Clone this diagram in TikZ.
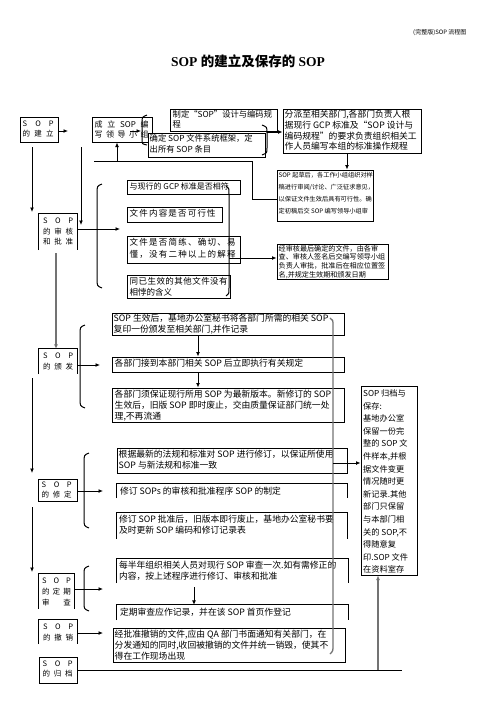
\documentclass[tikz,border=0pt]{standalone}
\usepackage{fontspec}
\setmainfont{Liberation Serif}
\newfontfamily\cjk{Noto Sans CJK SC}
\usetikzlibrary{arrows.meta,fit}
\newcommand\fs[2]{\fontsize{#1}{#2}\selectfont\cjk}
\newcommand\spr[2]{\hbox to #1pt{#2}}
\tikzset{
 bx/.style={draw, line width=1pt, fill=white, inner sep=0pt},
 ob/.style={inner sep=0pt},
 ln/.style={line width=1pt},
 gl/.style={line width=1.3pt, draw=black!55},
 arr/.style={ln, -{Latex[length=4.5pt,width=4pt]}},
 garr/.style={gl, -{Latex[length=4.5pt,width=4pt]}},
 tx/.style={inner sep=0pt, anchor=north west, align=left},
}
\begin{document}
\begin{tikzpicture}[x=1pt,y=-1pt]
\useasboundingbox (0,0) rectangle (496,702);
% header and title
\node[anchor=east, font=\fs{6}{7}] (hdr) at (470,33) {(完整版)SOP 流程图};
\node[font=\fontsize{13.5}{16}\selectfont\bfseries] (ttl) at (248,61) {SOP {\cjk 的建立及保存的} SOP};

% ---- left column boxes
\node[bx, fit={(20,117) (58,142)}] (b1) {};
\node[tx, font=\fs{7.5}{10}] (b1t) at ([shift={(3pt,-4pt)}]b1.north west) {\spr{31}{S\hfil O\hfil P}\\\spr{31}{的\hfil 建\hfil 立}};
\node[bx, fit={(92,117) (152,142)}] (b2) {};
\node[tx, font=\fs{8}{10}] (b2t) at ([shift={(3pt,-4pt)}]b2.north west) {\spr{54}{成\hfil 立\hfil SOP\hfil 编}\\\spr{54}{写\hfil 领\hfil 导\hfil 小\hfil 组}};

\node[ob, fit={(39,214) (77,250)}] (b3) {};
\draw[ln] (b3.south west) -- (b3.north west) -- (b3.north east) -- (b3.south east);
\node[tx, font=\fs{7.5}{10.5}] (b3t) at ([shift={(4pt,-4pt)}]b3.north west) {\spr{30}{S\hfil O\hfil P}\\\spr{30}{的\hfil 审\hfil 核}\\\spr{30}{和\hfil 批\hfil 准}};

\node[ob, fit={(39,349) (77,374)}] (b4) {};
\draw[ln] (b4.south west) -- (b4.north west) -- (b4.north east) -- (b4.south east);
\node[tx, font=\fs{7.5}{10.5}] (b4t) at ([shift={(4pt,-4pt)}]b4.north west) {\spr{30}{S\hfil O\hfil P}\\\spr{30}{的\hfil 颁\hfil 发}};

\node[bx, fit={(38,479) (77,501)}] (b5) {};
\node[tx, font=\fs{7.5}{10.5}] (b5t) at ([shift={(4pt,-3pt)}]b5.north west) {\spr{30}{S\hfil O\hfil P}\\\spr{30}{的\hfil 修\hfil 定}};

\node[ob, fit={(39,574) (74,609)}] (b6) {};
\draw[ln] (b6.south west) -- (b6.north west) -- (b6.north east) -- (b6.south east);
\node[tx, font=\fs{7.5}{11}] (b6t) at ([shift={(3pt,-4pt)}]b6.north west) {\spr{29}{S\hfil O\hfil P}\\\spr{29}{的\hfil 定\hfil 期}\\\spr{29}{审\hfil 查}};

\node[ob, fit={(39,620) (77,644)}] (b7) {};
\draw[ln] (b7.south west) -- (b7.north west) -- (b7.north east) -- (b7.south east);
\node[tx, font=\fs{7.5}{10.5}] (b7t) at ([shift={(4pt,-4pt)}]b7.north west) {\spr{30}{S\hfil O\hfil P}\\\spr{30}{的\hfil 撤\hfil 销}};

\node[bx, fit={(39,657) (77,683)}] (b8) {};
\node[tx, font=\fs{7.5}{10.5}] (b8t) at ([shift={(4pt,-4pt)}]b8.north west) {\spr{30}{S\hfil O\hfil P}\\\spr{30}{的\hfil 归\hfil 档}};

% ---- top right boxes
\node[bx, fit={(170,109) (277,131)}] (a1) {};
\node[tx, font=\fs{8.3}{10}] (a1t) at ([shift={(3pt,-2pt)}]a1.north west) {制定“SOP”设计与编码规\\程};
\node[bx, fit={(148,133) (265,157)}] (a2) {};
\node[tx, font=\fs{8.3}{10.5}] (a2t) at ([shift={(2pt,-2pt)}]a2.north west) {确定 SOP 文件系统框架，定\\出所有 SOP 条目};
\node[bx, fit={(283,109) (421,153)}] (pa) {};
\node[tx, font=\fs{8.8}{10.7}] (pat) at ([shift={(2pt,-1.5pt)}]pa.north west) {分派至相关部门,各部门负责人根\\据现行 GCP 标准及“SOP 设计与\\编码规程”的要求负责组织相关工\\作人员编写本组的标准操作规程};
\node[bx, fit={(277,170) (373,221)}] (qc) {};
\node[tx, font=\fs{6.2}{12}] (qct) at ([shift={(2pt,-2.5pt)}]qc.north west) {SOP 起草后，各工作小组组织对样\\稿进行审阅/讨论、广泛征求意见，\\以保证文件生效后具有可行性。确\\定初稿后交 SOP 编写领导小组审};
\node[bx, fit={(277,244) (388,279)}] (jc) {};
\node[tx, font=\fs{7.1}{8.6}] (jct) at ([shift={(2pt,-1.5pt)}]jc.north west) {经审核最后确定的文件，由各审\\查、审核人签名后交编写领导小组\\负责人审批，批准后在相应位置签\\名,并规定生效期和颁发日期};

% review items
\node[bx, fit={(127,180) (240,194)}] (r1) {};
\node[tx, font=\fs{8}{10}] (r1t) at ([shift={(3pt,-3pt)}]r1.north west) {与现行的 GCP 标准是否相符};
\node[bx, fit={(127,207) (222,222)}] (r2) {};
\node[tx, font=\fs{8.5}{10}] (r2t) at ([shift={(3pt,-3pt)}]r2.north west) {\spr{86}{文\hfil 件\hfil 内\hfil 容\hfil 是\hfil 否\hfil 可\hfil 行\hfil 性}};
\node[bx, fit={(127,236) (240,263)}] (r3) {};
\node[tx, font=\fs{8.5}{12}] (r3t) at ([shift={(3pt,-3pt)}]r3.north west) {\spr{106}{文\hfil 件\hfil 是\hfil 否\hfil 简\hfil 练\hfil 、\hfil 确\hfil 切\hfil 、\hfil 易}\\\spr{106}{懂\hfil ，\hfil 没\hfil 有\hfil 二\hfil 种\hfil 以\hfil 上\hfil 的\hfil 解\hfil 释}};
\node[bx, fit={(127,275) (230,298)}] (r4) {};
\node[tx, font=\fs{8.5}{11}] (r4t) at ([shift={(3pt,-3pt)}]r4.north west) {\spr{98}{同\hfil 已\hfil 生\hfil 效\hfil 的\hfil 其\hfil 他\hfil 文\hfil 件\hfil 没\hfil 有}\\相悖的含义};

% ---- distribution
\node[bx, fit={(112,313) (344,335)}] (m1) {};
\node[tx, font=\fs{8.8}{10.5}] (m1t) at ([shift={(2pt,-1.5pt)}]m1.north west) {SOP 生效后，基地办公室秘书将各部门所需的相关 SOP\\复印一份颁发至相关部门,并作记录};
\node[bx, fit={(112,357) (344,372)}] (m2) {};
\node[tx, font=\fs{8.8}{10.5}] (m2t) at ([shift={(3pt,-2.5pt)}]m2.north west) {各部门接到本部门相关 SOP 后立即执行有关规定};
\node[bx, fit={(112,388) (344,422)}] (m3) {};
\node[tx, font=\fs{8.8}{11}] (m3t) at ([shift={(3pt,-2pt)}]m3.north west) {各部门须保证现行所用 SOP 为最新版本。新修订的 SOP\\生效后，旧版 SOP 即时废止，交由质量保证部门统一处\\理,不再流通};

% ---- revision
\node[bx, fit={(117,448) (347,473)}] (v1) {};
\node[tx, font=\fs{8.8}{11}] (v1t) at ([shift={(2pt,-2pt)}]v1.north west) {根据最新的法规和标准对 SOP 进行修订，以保证所使用\\SOP 与新法规和标准一致};
\node[ob, fit={(117,484) (347,498)}] (v2) {};
\draw[ln] (v2.south west) -- (v2.north west) -- (v2.north east) -- (v2.south east);
\node[tx, font=\fs{8.8}{11}] (v2t) at ([shift={(3pt,-3pt)}]v2.north west) {修订 SOPs 的审核和批准程序 SOP 的制定};
\node[ob, fit={(117,513) (347,539)}] (v3) {};
\draw[ln] (v3.south west) -- (v3.north west) -- (v3.north east) -- (v3.south east);
\node[tx, font=\fs{8.8}{11}] (v3t) at ([shift={(2pt,-2pt)}]v3.north west) {修订 SOP 批准后，旧版本即行废止，基地办公室秘书要\\及时更新 SOP 编码和修订记录表};

% ---- periodic review
\node[ob, fit={(117,559) (348,583)}] (p1) {};
\draw[ln] (p1.south west) -- (p1.north west) -- (p1.north east) -- (p1.south east);
\node[tx, font=\fs{8.8}{11}] (p1t) at ([shift={(2pt,-2pt)}]p1.north west) {每半年组织相关人员对现行 SOP 审查一次.如有需修正的\\内容，按上述程序进行修订、审核和批准};
\node[ob, fit={(117,605) (348,620)}] (p2) {};
\draw[ln] (p2.south west) -- (p2.north west) -- (p2.north east) -- (p2.south east);
\node[tx, font=\fs{8.8}{11}] (p2t) at ([shift={(3pt,-3pt)}]p2.north west) {定期审查应作记录，并在该 SOP 首页作登记};

% ---- withdrawal
\node[bx, fit={(113,628) (345,662)}] (c1) {};
\node[tx, font=\fs{8.8}{11}] (c1t) at ([shift={(2pt,-2pt)}]c1.north west) {经批准撤销的文件,应由 QA 部门书面通知有关部门，在\\分发通知的同时,收回被撤销的文件并统一销毁，使其不\\得在工作现场出现};

% ---- archive
\node[bx, fit={(361,386) (417,575)}] (ar) {};
\node[tx, font=\fs{8.2}{12.6}] (art) at ([shift={(2.5pt,-4pt)}]ar.north west) {SOP 归档与\\保存:\\基地办公室\\保留一份完\\整的 SOP 文\\件样本,并根\\据文件变更\\情况随时更\\新记录.其他\\部门只保留\\与本部门相\\关的 SOP,不\\得随意复\\印.SOP 文件\\在资料室存};

% ---- brackets
\draw[ln] (147,115) .. controls (142,117) .. (142,123) -- (142,139) .. controls (142,144) .. (147,145);
\draw[ln] (262,125) .. controls (267,127) .. (267,133) -- (267,148) .. controls (267,153) .. (262,155);
\draw[ln] (102,184) .. controls (97,186) .. (97,194) -- (97,278) .. controls (97,286) .. (102,288);
\draw[ln] (226,186) .. controls (229,188) .. (229,194) -- (229,288) .. controls (229,294) .. (226,296);
\draw[ln] (85,325) .. controls (80,327) .. (80,335) -- (80,398) .. controls (80,406) .. (85,408);
\draw[ln] (89,453) .. controls (84,455) .. (84,463) -- (84,518) .. controls (84,526) .. (89,528);
\draw[ln] (89,566) .. controls (84,568) .. (84,575) -- (84,602) .. controls (84,609) .. (89,611);
\draw[gl] (330,318) .. controls (333,320) .. (333,326) -- (333,645) .. controls (333,651) .. (330,654);

% ---- coordinates
\coordinate (e1) at (68,131);
\coordinate (s1) at (32,147); \coordinate (t1) at (32,212);
\coordinate (s2) at (81,147); \coordinate (t2) at (81,225);
\coordinate (e3) at (120,229);
\coordinate (s3) at (56,253);
\coordinate (e4) at (100,365);
\coordinate (s4) at (32,378); \coordinate (t4) at (32,473);
\coordinate (e5) at (103,491);
\coordinate (s5) at (32,507); \coordinate (t5) at (32,572);
\coordinate (e6) at (103,589);
\coordinate (e7) at (103,633);
\coordinate (e8) at (402,670);
\coordinate (u8) at (378,670);
\coordinate (qx) at (347,0);
\coordinate (f1) at (252,199); \coordinate (f2) at (252,161); \coordinate (f3) at (94,161); \coordinate (f4) at (117,161);
\coordinate (g1) at (229,258);
\coordinate (h1) at (267,132);
\coordinate (k1) at (130,131); \coordinate (k2) at (141,131);
\coordinate (cx) at (198,0);
\coordinate (px) at (194,587);
\coordinate (w1) at (333,463);

% ---- connectors
\draw[arr] (b1.east |- e1) -- (e1);
\draw[arr] (s1) -- (t1);
\draw[arr] (s2) -- (t2);
\draw[arr] (b3.east |- e3) -- (e3);
\draw[garr] (s3) -- (s3 |- b4.north);
\draw[arr] (b4.east |- e4) -- (e4);
\draw[arr] (s4) -- (t4);
\draw[arr] (b5.east |- e5) -- (e5);
\draw[arr] (s5) -- (t5);
\draw[arr] (b6.east |- e6) -- (e6);
\draw[arr] (b7.east |- e7) -- (e7);
\draw[ln] (b8.east) -- (e8);
\draw[garr] (u8) -- (u8 |- ar.south);
\draw[arr] (pa.south -| qx) -- (qc.north -| qx);
\draw[ln] (qc.west |- f1) -- (f1) -- (f2) -- (f3);
\draw[arr] (f4) -- (f4 |- b2.south);
\draw[arr] (g1) -- (jc.west |- g1);
\draw[arr] (h1) -- (pa.west |- h1);
\draw[arr] (k1) -- (k2);
\draw[arr] (m1.south -| cx) -- (m2.north -| cx);
\draw[arr] (m2.south -| cx) -- (m3.north -| cx);
\draw[arr] (px) -- (px |- p2.north);
\draw[arr] (w1) -- (ar.west |- w1);
\end{tikzpicture}
\end{document}
